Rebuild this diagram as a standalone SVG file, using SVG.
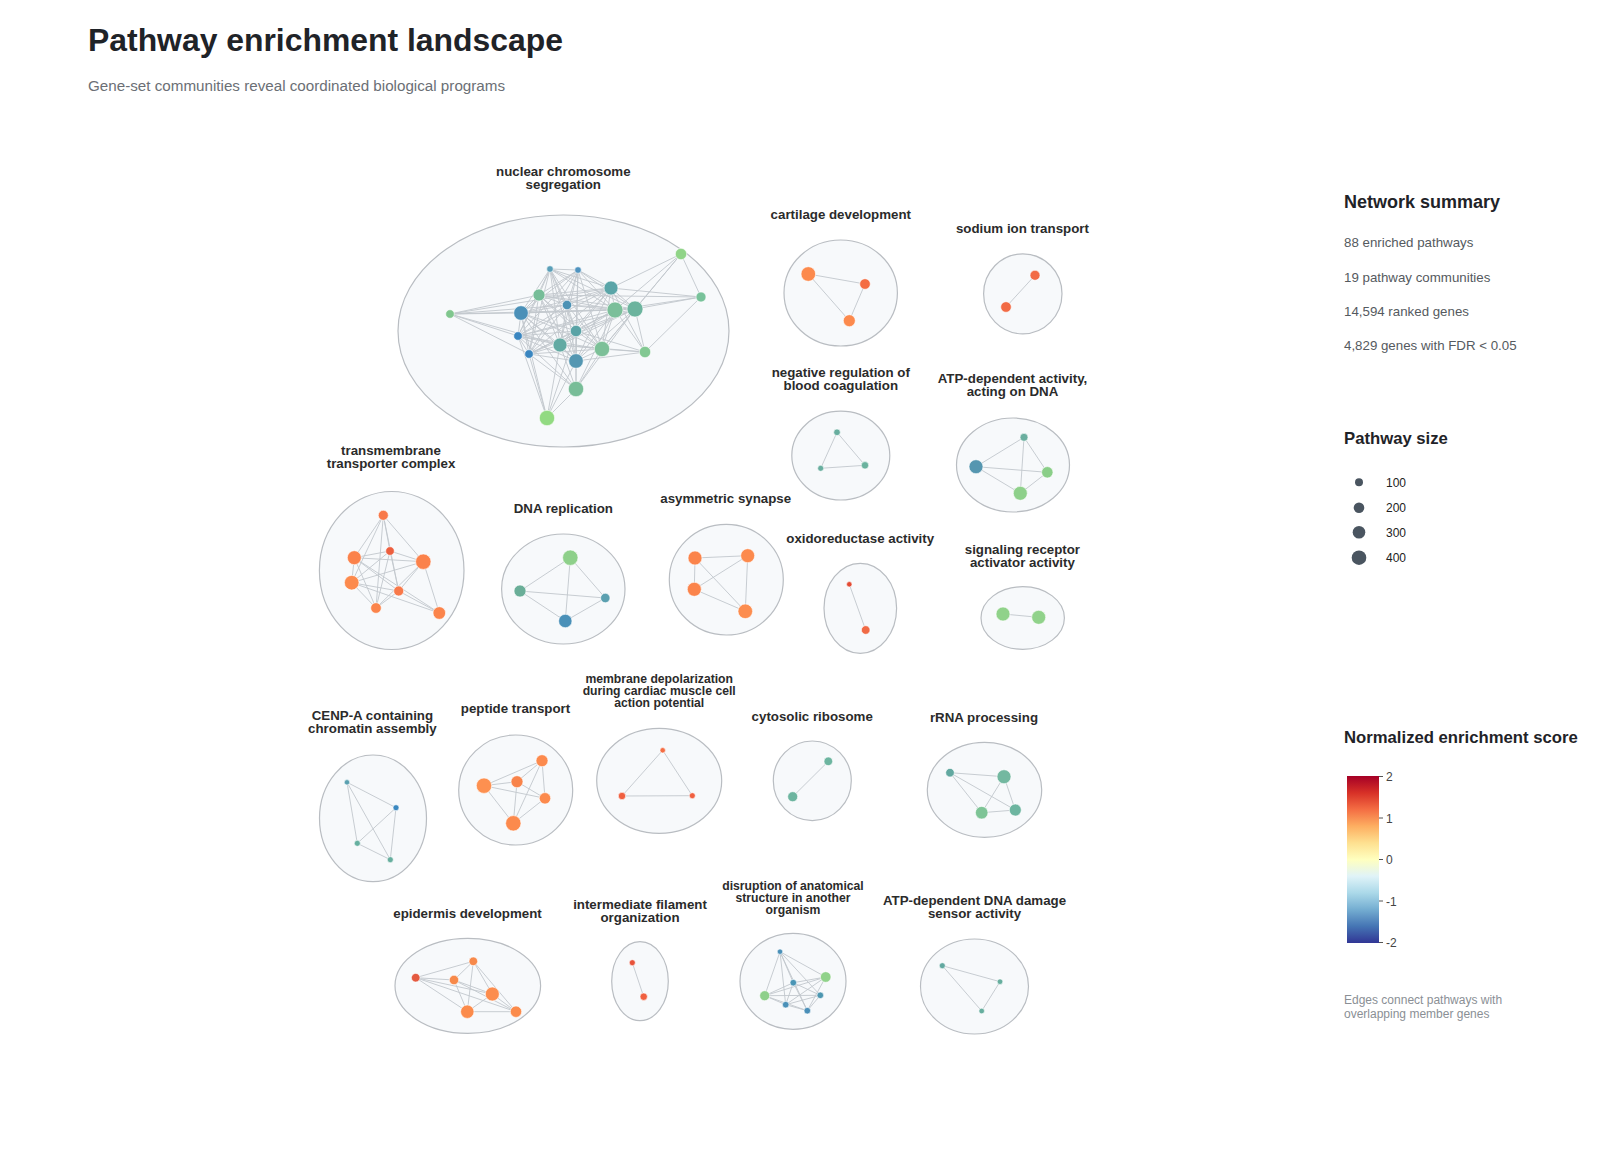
<svg xmlns="http://www.w3.org/2000/svg" width="1600" height="1150" viewBox="0 0 1600 1150">
<defs>
<style>
text{font-family:"Liberation Sans",Arial,Helvetica,sans-serif}
.title{font-size:31.9px;font-weight:bold;fill:#1f2328}
.sub{font-size:15.2px;fill:#6b6f75}
.lbl{font-size:13.3px;font-weight:bold;fill:#2b2b2b;text-anchor:middle}
.lbs{font-size:12.2px;font-weight:bold;fill:#2b2b2b;text-anchor:middle}
.comm{fill:#f7f9fb;stroke:#b9bdc2;stroke-width:1.2}
.edge{fill:none;stroke:#c2c7cd;stroke-width:0.9}
.nd circle{stroke:#ffffff;stroke-width:0.6}
.hd{font-size:16.7px;font-weight:bold;fill:#1f2328}
.st{font-size:13.3px;fill:#555a60}
.lg{font-size:12px;fill:#222}
.cap{font-size:12px;fill:#8a8f95}
.tick{stroke:#555;stroke-width:1}
</style>
<linearGradient id="nes" x1="0" y1="0" x2="0" y2="1">
<stop offset="0" stop-color="#a50026"/>
<stop offset="0.1" stop-color="#d73027"/>
<stop offset="0.2" stop-color="#f46d43"/>
<stop offset="0.3" stop-color="#fdae61"/>
<stop offset="0.4" stop-color="#fee090"/>
<stop offset="0.5" stop-color="#ffffbf"/>
<stop offset="0.6" stop-color="#e0f3f8"/>
<stop offset="0.7" stop-color="#abd9e9"/>
<stop offset="0.8" stop-color="#74add1"/>
<stop offset="0.9" stop-color="#4575b4"/>
<stop offset="1" stop-color="#313695"/>
</linearGradient>
</defs>
<rect width="1600" height="1150" fill="#ffffff"/>
<text class="title" x="88" y="51">Pathway enrichment landscape</text>
<text class="sub" x="88" y="91">Gene-set communities reveal coordinated biological programs</text>

<g id="communities">
<g id="c-nuclear"><ellipse class="comm" cx="563.5" cy="331" rx="165.5" ry="116"/><text class="lbl" x="563.3" y="175.5">nuclear chromosome</text><text class="lbl" x="563.3" y="188.5">segregation</text></g>
<g id="c-cartilage"><ellipse class="comm" cx="840.7" cy="293" rx="56.7" ry="53"/><text class="lbl" x="840.8" y="219">cartilage development</text></g>
<g id="c-sodium"><ellipse class="comm" cx="1022.8" cy="293.8" rx="39.2" ry="40"/><text class="lbl" x="1022.4" y="233">sodium ion transport</text></g>
<g id="c-negreg"><ellipse class="comm" cx="840.8" cy="455.6" rx="49" ry="44.4"/><text class="lbl" x="840.8" y="377">negative regulation of</text><text class="lbl" x="840.8" y="390">blood coagulation</text></g>
<g id="c-atpdna"><ellipse class="comm" cx="1013" cy="465" rx="56.5" ry="47"/><text class="lbl" x="1012.5" y="383">ATP-dependent activity,</text><text class="lbl" x="1012.5" y="396">acting on DNA</text></g>
<g id="c-transmem"><ellipse class="comm" cx="391.7" cy="570.5" rx="72.3" ry="79"/><text class="lbl" x="391" y="454.5">transmembrane</text><text class="lbl" x="391" y="467.5">transporter complex</text></g>
<g id="c-dnarep"><ellipse class="comm" cx="563.3" cy="589" rx="61.7" ry="55"/><text class="lbl" x="563.3" y="512.7">DNA replication</text></g>
<g id="c-asym"><ellipse class="comm" cx="726.3" cy="579.7" rx="57" ry="55.3"/><text class="lbl" x="725.7" y="502.5">asymmetric synapse</text></g>
<g id="c-oxido"><ellipse class="comm" cx="860.3" cy="608.3" rx="36.3" ry="45"/><text class="lbl" x="860.2" y="543">oxidoreductase activity</text></g>
<g id="c-signal"><ellipse class="comm" cx="1022.7" cy="618" rx="41.7" ry="31.3"/><text class="lbl" x="1022.4" y="553.5">signaling receptor</text><text class="lbl" x="1022.4" y="566.5">activator activity</text></g>
<g id="c-cenpa"><ellipse class="comm" cx="373" cy="818.3" rx="53.5" ry="63.3"/><text class="lbl" x="372.4" y="720">CENP-A containing</text><text class="lbl" x="372.4" y="733">chromatin assembly</text></g>
<g id="c-peptide"><ellipse class="comm" cx="515.7" cy="790" rx="57" ry="55"/><text class="lbl" x="515.5" y="712.5">peptide transport</text></g>
<g id="c-membrane"><ellipse class="comm" cx="659.2" cy="780.8" rx="62.5" ry="52.5"/><text class="lbs" x="659.2" y="683">membrane depolarization</text><text class="lbs" x="659.2" y="695">during cardiac muscle cell</text><text class="lbs" x="659.2" y="707">action potential</text></g>
<g id="c-cytoribo"><ellipse class="comm" cx="812.3" cy="780.8" rx="39" ry="39.8"/><text class="lbl" x="812.2" y="720.8">cytosolic ribosome</text></g>
<g id="c-rrna"><ellipse class="comm" cx="984.5" cy="789.8" rx="57.2" ry="47.5"/><text class="lbl" x="984" y="722">rRNA processing</text></g>
<g id="c-epidermis"><ellipse class="comm" cx="467.8" cy="985.8" rx="72.8" ry="47.5"/><text class="lbl" x="467.5" y="918">epidermis development</text></g>
<g id="c-intfil"><ellipse class="comm" cx="640" cy="981.2" rx="28.3" ry="39.5"/><text class="lbl" x="640" y="908.5">intermediate filament</text><text class="lbl" x="640" y="921.5">organization</text></g>
<g id="c-disrupt"><ellipse class="comm" cx="793" cy="981.3" rx="53" ry="48"/><text class="lbs" x="793" y="890">disruption of anatomical</text><text class="lbs" x="793" y="902">structure in another</text><text class="lbs" x="793" y="914">organism</text></g>
<g id="c-atpdmg"><ellipse class="comm" cx="974.5" cy="986.5" rx="54" ry="47.5"/><text class="lbl" x="974.5" y="904.5">ATP-dependent DNA damage</text><text class="lbl" x="974.5" y="917.5">sensor activity</text></g>
</g>

<g id="connectors" class="edge">
<path d="M550 269L578 270M550 269L611 288M550 269L539 295M550 269L521 313M550 269L567 305M550 269L615 310M550 269L635 309M550 269L518 336M550 269L576 331M550 269L529 354M550 269L560 345M550 269L602 349M550 269L576 361
M578 270L611 288M578 270L539 295M578 270L521 313M578 270L567 305M578 270L615 310M578 270L635 309M578 270L518 336M578 270L576 331M578 270L529 354M578 270L560 345M578 270L602 349M578 270L576 361
M611 288L539 295M611 288L521 313M611 288L567 305M611 288L615 310M611 288L635 309M611 288L518 336M611 288L576 331M611 288L529 354M611 288L560 345M611 288L602 349M611 288L576 361
M539 295L521 313M539 295L567 305M539 295L615 310M539 295L635 309M539 295L518 336M539 295L576 331M539 295L529 354M539 295L560 345M539 295L602 349M539 295L576 361
M521 313L567 305M521 313L615 310M521 313L635 309M521 313L518 336M521 313L576 331M521 313L529 354M521 313L560 345M521 313L602 349M521 313L576 361
M567 305L615 310M567 305L635 309M567 305L518 336M567 305L576 331M567 305L529 354M567 305L560 345M567 305L602 349M567 305L576 361
M615 310L635 309M615 310L518 336M615 310L576 331M615 310L529 354M615 310L560 345M615 310L602 349M615 310L576 361
M635 309L518 336M635 309L576 331M635 309L529 354M635 309L560 345M635 309L602 349M635 309L576 361
M518 336L576 331M518 336L529 354M518 336L560 345M518 336L602 349M518 336L576 361
M576 331L529 354M576 331L560 345M576 331L602 349M576 331L576 361
M529 354L560 345M529 354L602 349M529 354L576 361M560 345L602 349M560 345L576 361M602 349L576 361
M450 314L539 295M450 314L521 313M450 314L518 336M450 314L529 354M450 314L611 288M450 314L635 309M450 314L560 345M450 314L567 305
M681 254L701 297M681 254L611 288M681 254L615 310M681 254L635 309M681 254L602 349
M701 297L539 295M701 297L611 288M701 297L615 310M701 297L635 309M701 297L645 352
M645 352L635 309M645 352L615 310M645 352L611 288M645 352L602 349M645 352L576 361M645 352L576 331M645 352L560 345
M576 389L576 361M576 389L560 345M576 389L576 331M576 389L529 354M576 389L518 336M576 389L602 349M576 389L615 310M576 389L635 309M576 389L521 313
M547 418L529 354M547 418L518 336M547 418L576 361M547 418L576 389M547 418L560 345M547 418L576 331M547 418L521 313"/>
<path d="M808.3 274L865 284L849.3 320.7Z"/>
<path d="M1035 275.3L1006 307"/>
<path d="M837 432.3L820.7 468.3L865 465.3Z"/>
<path d="M1024 437.3L976 466.7L1047.3 472.3L1020.3 493.3ZM1024 437.3L1047.3 472.3M976 466.7L1020.3 493.3"/>
<path d="M383.3 515.3L390 551M383.3 515.3L354.3 557.7M383.3 515.3L423.3 561.7M383.3 515.3L351.7 582.7M383.3 515.3L398.7 591M383.3 515.3L376 608
M390 551L354.3 557.7M390 551L423.3 561.7M390 551L351.7 582.7M390 551L398.7 591M390 551L376 608
M354.3 557.7L423.3 561.7M354.3 557.7L351.7 582.7M354.3 557.7L398.7 591M354.3 557.7L376 608M354.3 557.7L439.3 613
M423.3 561.7L351.7 582.7M423.3 561.7L398.7 591M423.3 561.7L376 608M423.3 561.7L439.3 613
M351.7 582.7L398.7 591M351.7 582.7L376 608M351.7 582.7L439.3 613M398.7 591L376 608M398.7 591L439.3 613"/>
<path d="M570.3 557.7L520 591L565.3 621L605.3 598ZM570.3 557.7L565.3 621M520 591L605.3 598"/>
<path d="M695 558L747.7 555.7L745.3 611.3L694.3 589.3ZM695 558L745.3 611.3M747.7 555.7L694.3 589.3"/>
<path d="M849.3 584.3L865.7 630"/>
<path d="M1003 614L1038.7 617.3"/>
<path d="M347 782.3L396 807.7L390.3 859.7L357.3 843.3ZM347 782.3L390.3 859.7M396 807.7L357.3 843.3"/>
<path d="M542 760.7L484 785.7M542 760.7L517 781.7M542 760.7L545 798.3M542 760.7L513.3 823.3M484 785.7L517 781.7M484 785.7L545 798.3M484 785.7L513.3 823.3M517 781.7L545 798.3M517 781.7L513.3 823.3M545 798.3L513.3 823.3"/>
<path d="M662.7 750.3L622 796L692.3 795.7Z"/>
<path d="M828.3 761.3L792.7 796.7"/>
<path d="M950 772.7L1004 776.7L1015.3 810L981.7 812.7ZM950 772.7L1015.3 810M1004 776.7L981.7 812.7"/>
<path d="M415.7 977.7L473.3 961.3M415.7 977.7L454 980M415.7 977.7L492.3 994M415.7 977.7L467.3 1011.7M415.7 977.7L516 1011.7
M473.3 961.3L454 980M473.3 961.3L492.3 994M473.3 961.3L467.3 1011.7M473.3 961.3L516 1011.7
M454 980L492.3 994M454 980L467.3 1011.7M454 980L516 1011.7M492.3 994L467.3 1011.7M492.3 994L516 1011.7M467.3 1011.7L516 1011.7"/>
<path d="M632.3 962.7L643.7 996.7"/>
<path d="M780 951.7L825.7 977M780 951.7L793.3 982.7M780 951.7L764.7 995.7M780 951.7L820.3 995.3M780 951.7L785.7 1004.7M780 951.7L807.3 1010.7
M825.7 977L793.3 982.7M825.7 977L764.7 995.7M825.7 977L785.7 1004.7M825.7 977L807.3 1010.7
M793.3 982.7L764.7 995.7M793.3 982.7L820.3 995.3M793.3 982.7L785.7 1004.7M793.3 982.7L807.3 1010.7
M764.7 995.7L820.3 995.3M764.7 995.7L785.7 1004.7M764.7 995.7L807.3 1010.7M820.3 995.3L785.7 1004.7M820.3 995.3L807.3 1010.7M785.7 1004.7L807.3 1010.7"/>
<path d="M942.3 965.7L1000 981.7L981.7 1011Z"/>
</g>

<g id="nodes" class="nd">
<g id="n-nuclear">
<circle cx="681" cy="254" r="5.7" fill="#90d488"/>
<circle cx="701" cy="297" r="5" fill="#78c29a"/>
<circle cx="450" cy="314" r="4.3" fill="#80c68e"/>
<circle cx="550" cy="269" r="3.3" fill="#5a9fb8"/>
<circle cx="578" cy="270" r="3.3" fill="#4f93bf"/>
<circle cx="611" cy="288" r="7" fill="#5aa5a8"/>
<circle cx="539" cy="295" r="6" fill="#76bd98"/>
<circle cx="521" cy="313" r="7.3" fill="#4b90b8"/>
<circle cx="567" cy="305" r="4.7" fill="#4b92b5"/>
<circle cx="615" cy="310" r="8" fill="#7bbf9a"/>
<circle cx="635" cy="309" r="8" fill="#6cb49e"/>
<circle cx="518" cy="336" r="4.3" fill="#3a86c0"/>
<circle cx="576" cy="331" r="5.7" fill="#5aa3a6"/>
<circle cx="529" cy="354" r="4.3" fill="#3a86c0"/>
<circle cx="560" cy="345" r="7" fill="#62aaa3"/>
<circle cx="602" cy="349" r="7.7" fill="#7cc098"/>
<circle cx="645" cy="352" r="5.7" fill="#82c892"/>
<circle cx="576" cy="361" r="7.3" fill="#5497b2"/>
<circle cx="576" cy="389" r="7.7" fill="#78bd98"/>
<circle cx="547" cy="418" r="7.7" fill="#92da82"/>
</g>
<g id="n-cartilage">
<circle cx="808.3" cy="274" r="7.3" fill="#fc8a4d"/>
<circle cx="865" cy="284" r="5.3" fill="#f46d43"/>
<circle cx="849.3" cy="320.7" r="6" fill="#fc8a4d"/>
</g>
<g id="n-sodium">
<circle cx="1035" cy="275.3" r="5" fill="#f26b45"/>
<circle cx="1006" cy="307" r="5.3" fill="#f26b45"/>
</g>
<g id="n-negreg">
<circle cx="837" cy="432.3" r="3.3" fill="#68ae9f"/>
<circle cx="820.7" cy="468.3" r="3" fill="#68ae9f"/>
<circle cx="865" cy="465.3" r="3.7" fill="#6ab29e"/>
</g>
<g id="n-atpdna">
<circle cx="1024" cy="437.3" r="4" fill="#6aae9f"/>
<circle cx="976" cy="466.7" r="7" fill="#5596b0"/>
<circle cx="1047.3" cy="472.3" r="5.7" fill="#8ace88"/>
<circle cx="1020.3" cy="493.3" r="7" fill="#8ed08a"/>
</g>
<g id="n-transmem">
<circle cx="383.3" cy="515.3" r="5" fill="#f8794a"/>
<circle cx="390" cy="551" r="4.3" fill="#ec5f3f"/>
<circle cx="354.3" cy="557.7" r="7" fill="#fb824b"/>
<circle cx="423.3" cy="561.7" r="7.7" fill="#fb824b"/>
<circle cx="351.7" cy="582.7" r="7.3" fill="#fc8a4d"/>
<circle cx="398.7" cy="591" r="5" fill="#f8794a"/>
<circle cx="376" cy="608" r="5.3" fill="#fb844b"/>
<circle cx="439.3" cy="613" r="6.3" fill="#fb844b"/>
</g>
<g id="n-dnarep">
<circle cx="570.3" cy="557.7" r="7.7" fill="#8ed08a"/>
<circle cx="520" cy="591" r="6" fill="#6aae98"/>
<circle cx="605.3" cy="598" r="4.7" fill="#5ba0b0"/>
<circle cx="565.3" cy="621" r="6.7" fill="#4a90b8"/>
</g>
<g id="n-asym">
<circle cx="695" cy="558" r="7" fill="#fb844b"/>
<circle cx="747.7" cy="555.7" r="7" fill="#fc8a4d"/>
<circle cx="694.3" cy="589.3" r="7" fill="#fb844b"/>
<circle cx="745.3" cy="611.3" r="7.3" fill="#fc8d4f"/>
</g>
<g id="n-oxido">
<circle cx="849.3" cy="584.3" r="2.7" fill="#e34a33"/>
<circle cx="865.7" cy="630" r="4.3" fill="#f06a45"/>
</g>
<g id="n-signal">
<circle cx="1003" cy="614" r="7" fill="#90d28a"/>
<circle cx="1038.7" cy="617.3" r="7" fill="#90d28a"/>
</g>
<g id="n-cenpa">
<circle cx="347" cy="782.3" r="2.7" fill="#5aa0b0"/>
<circle cx="396" cy="807.7" r="3" fill="#3b88c0"/>
<circle cx="357.3" cy="843.3" r="3" fill="#66b0a0"/>
<circle cx="390.3" cy="859.7" r="3" fill="#66ae9e"/>
</g>
<g id="n-peptide">
<circle cx="542" cy="760.7" r="6" fill="#fc8a4d"/>
<circle cx="484" cy="785.7" r="7.7" fill="#fd9050"/>
<circle cx="517" cy="781.7" r="6" fill="#f8834a"/>
<circle cx="545" cy="798.3" r="5.7" fill="#fc8a4d"/>
<circle cx="513.3" cy="823.3" r="7.7" fill="#fc8a4d"/>
</g>
<g id="n-membrane">
<circle cx="662.7" cy="750.3" r="2.7" fill="#f46d43"/>
<circle cx="622" cy="796" r="3.7" fill="#f06040"/>
<circle cx="692.3" cy="795.7" r="3" fill="#f06040"/>
</g>
<g id="n-cytoribo">
<circle cx="828.3" cy="761.3" r="4.3" fill="#6db5a0"/>
<circle cx="792.7" cy="796.7" r="5" fill="#6db5a0"/>
</g>
<g id="n-rrna">
<circle cx="950" cy="772.7" r="4.3" fill="#62a8a0"/>
<circle cx="1004" cy="776.7" r="7" fill="#73b8a0"/>
<circle cx="981.7" cy="812.7" r="6.3" fill="#7ec496"/>
<circle cx="1015.3" cy="810" r="6" fill="#6db5a0"/>
</g>
<g id="n-epidermis">
<circle cx="415.7" cy="977.7" r="4.3" fill="#e45a40"/>
<circle cx="473.3" cy="961.3" r="4.3" fill="#f7894a"/>
<circle cx="454" cy="980" r="4.7" fill="#f7894a"/>
<circle cx="492.3" cy="994" r="7" fill="#fc8d4e"/>
<circle cx="467.3" cy="1011.7" r="6.7" fill="#fb8b4b"/>
<circle cx="516" cy="1011.7" r="5.7" fill="#fb8b4b"/>
</g>
<g id="n-intfil">
<circle cx="632.3" cy="962.7" r="3" fill="#e8533a"/>
<circle cx="643.7" cy="996.7" r="3.7" fill="#f06040"/>
</g>
<g id="n-disrupt">
<circle cx="780" cy="951.7" r="2.7" fill="#4a90b8"/>
<circle cx="825.7" cy="977" r="5.3" fill="#90d28a"/>
<circle cx="793.3" cy="982.7" r="3.3" fill="#4a95b5"/>
<circle cx="764.7" cy="995.7" r="5" fill="#8ed08a"/>
<circle cx="820.3" cy="995.3" r="3.3" fill="#4d96b0"/>
<circle cx="785.7" cy="1004.7" r="3.3" fill="#4a90b8"/>
<circle cx="807.3" cy="1010.7" r="3.3" fill="#4a8fb8"/>
</g>
<g id="n-atpdmg">
<circle cx="942.3" cy="965.7" r="3" fill="#62a8a0"/>
<circle cx="1000" cy="981.7" r="2.8" fill="#66ae9e"/>
<circle cx="981.7" cy="1011" r="2.8" fill="#66ae9e"/>
</g>
</g>

<g id="legend">
<text class="hd" x="1344" y="208" style="font-size:18px">Network summary</text>
<text class="st" x="1344" y="247">88 enriched pathways</text>
<text class="st" x="1344" y="282">19 pathway communities</text>
<text class="st" x="1344" y="316">14,594 ranked genes</text>
<text class="st" x="1344" y="350">4,829 genes with FDR &lt; 0.05</text>
<text class="hd" x="1344" y="444">Pathway size</text>
<g fill="#4a5560">
<circle cx="1359" cy="482.3" r="4"/>
<circle cx="1359" cy="507.7" r="5.3"/>
<circle cx="1359" cy="532.3" r="6.3"/>
<circle cx="1359" cy="557.7" r="7.3"/>
</g>
<text class="lg" x="1386" y="486.5">100</text>
<text class="lg" x="1386" y="512">200</text>
<text class="lg" x="1386" y="536.5">300</text>
<text class="lg" x="1386" y="562">400</text>
<text class="hd" x="1344" y="742.5">Normalized enrichment score</text>
<rect x="1347" y="776" width="32" height="167" fill="url(#nes)"/>
<g class="tick">
<line x1="1379" y1="776.5" x2="1383" y2="776.5"/>
<line x1="1379" y1="818" x2="1383" y2="818"/>
<line x1="1379" y1="859.5" x2="1383" y2="859.5"/>
<line x1="1379" y1="901" x2="1383" y2="901"/>
<line x1="1379" y1="942.5" x2="1383" y2="942.5"/>
</g>
<text class="lg" x="1386" y="781" style="fill:#444">2</text>
<text class="lg" x="1386" y="822.5" style="fill:#444">1</text>
<text class="lg" x="1386" y="864" style="fill:#444">0</text>
<text class="lg" x="1386" y="905.5" style="fill:#444">-1</text>
<text class="lg" x="1386" y="947" style="fill:#444">-2</text>
<text class="cap" x="1344" y="1003.5">Edges connect pathways with</text>
<text class="cap" x="1344" y="1018">overlapping member genes</text>
</g>
</svg>
